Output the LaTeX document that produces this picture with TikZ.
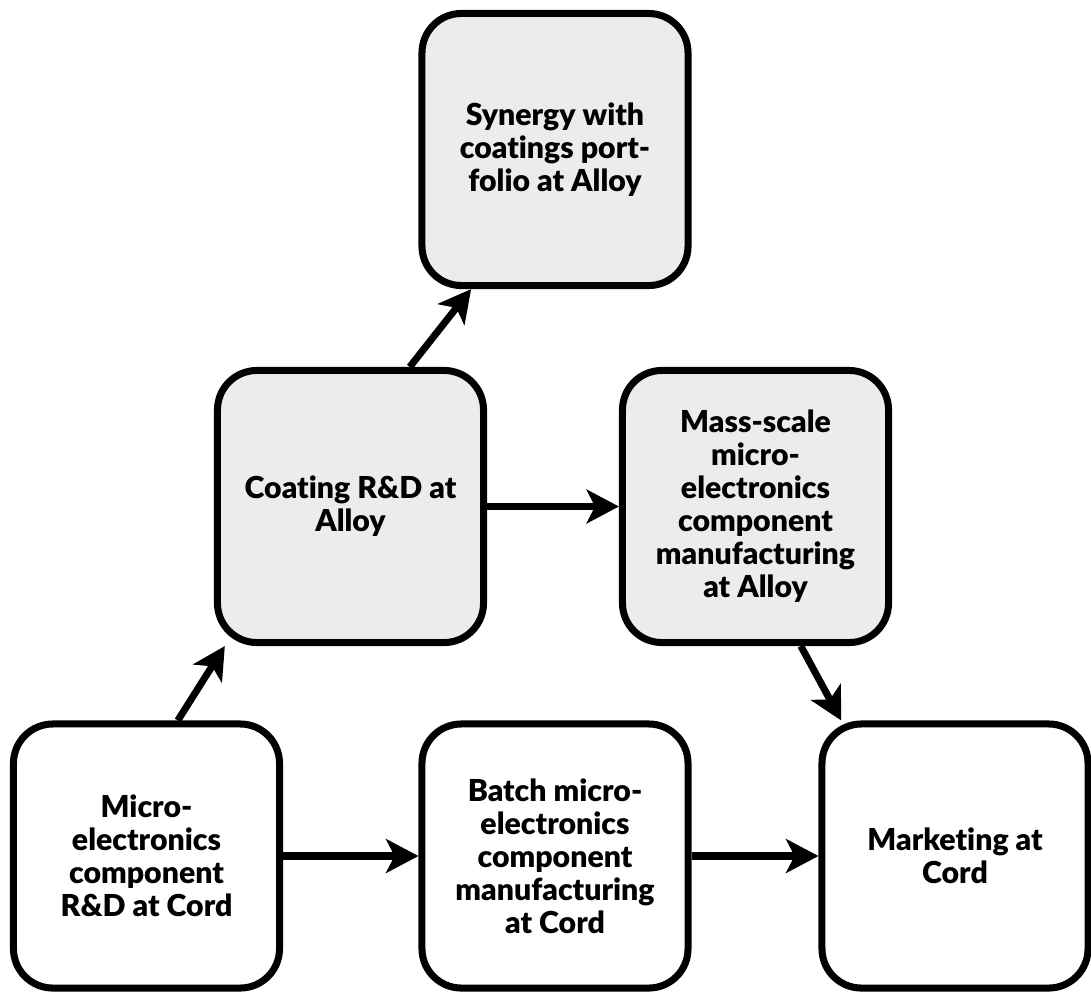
\documentclass[tikz,border=0pt]{standalone}
\usepackage{fontspec}
\setmainfont{Lato}[Ligatures=NoCommon, BoldFont={Lato Black}]
\usetikzlibrary{arrows.meta}
\tikzset{
    box/.style={draw=black, line width=5pt, rounded corners=28pt, align=center,
        minimum width=6.65cm, minimum height=6.6cm, inner sep=0pt,
        font=\bfseries\fontsize{21.5}{23.5}\selectfont},
    grey/.style={box, fill=gray!15, minimum height=6.8cm},
    link/.style={line width=5pt, -{Stealth[length=23pt,width=24pt,inset=6pt]}}
}
\begin{document}
\begin{tikzpicture}[x=0.025cm,y=-0.025cm]
    \useasboundingbox (0,0) rectangle (1091,994);
    % insert nodes
    \node[grey] (synergy) at (555,149.5) {Synergy with\\coatings port-\\folio at Alloy};
    \node[grey] (coating) at (350.5,506.5) {Coating R\&D at\\Alloy};
    \node[grey] (mass) at (755.5,506.5) {Mass-scale\\micro-\\electronics\\component\\manufacturing\\at Alloy};
    \node[box] (micro) at (146.5,856) {Micro-\\electronics\\component\\R\&D at Cord};
    \node[box] (batch) at (555,856) {Batch micro-\\electronics\\component\\manufacturing\\at Cord};
    \node[box] (marketing) at (955,856) {Marketing at\\Cord};

    % insert links
    \draw[link] (micro.77) -- (coating.228);
    \draw[link] (coating.67) -- (synergy.239);
    \draw[link] (coating.east) -- (mass.west);
    \draw[link] (mass.288) -- (marketing.130);
    \draw[link] (micro.east) -- (batch.west);
    \draw[link] (batch.east) -- (marketing.west);
\end{tikzpicture}
\end{document}
